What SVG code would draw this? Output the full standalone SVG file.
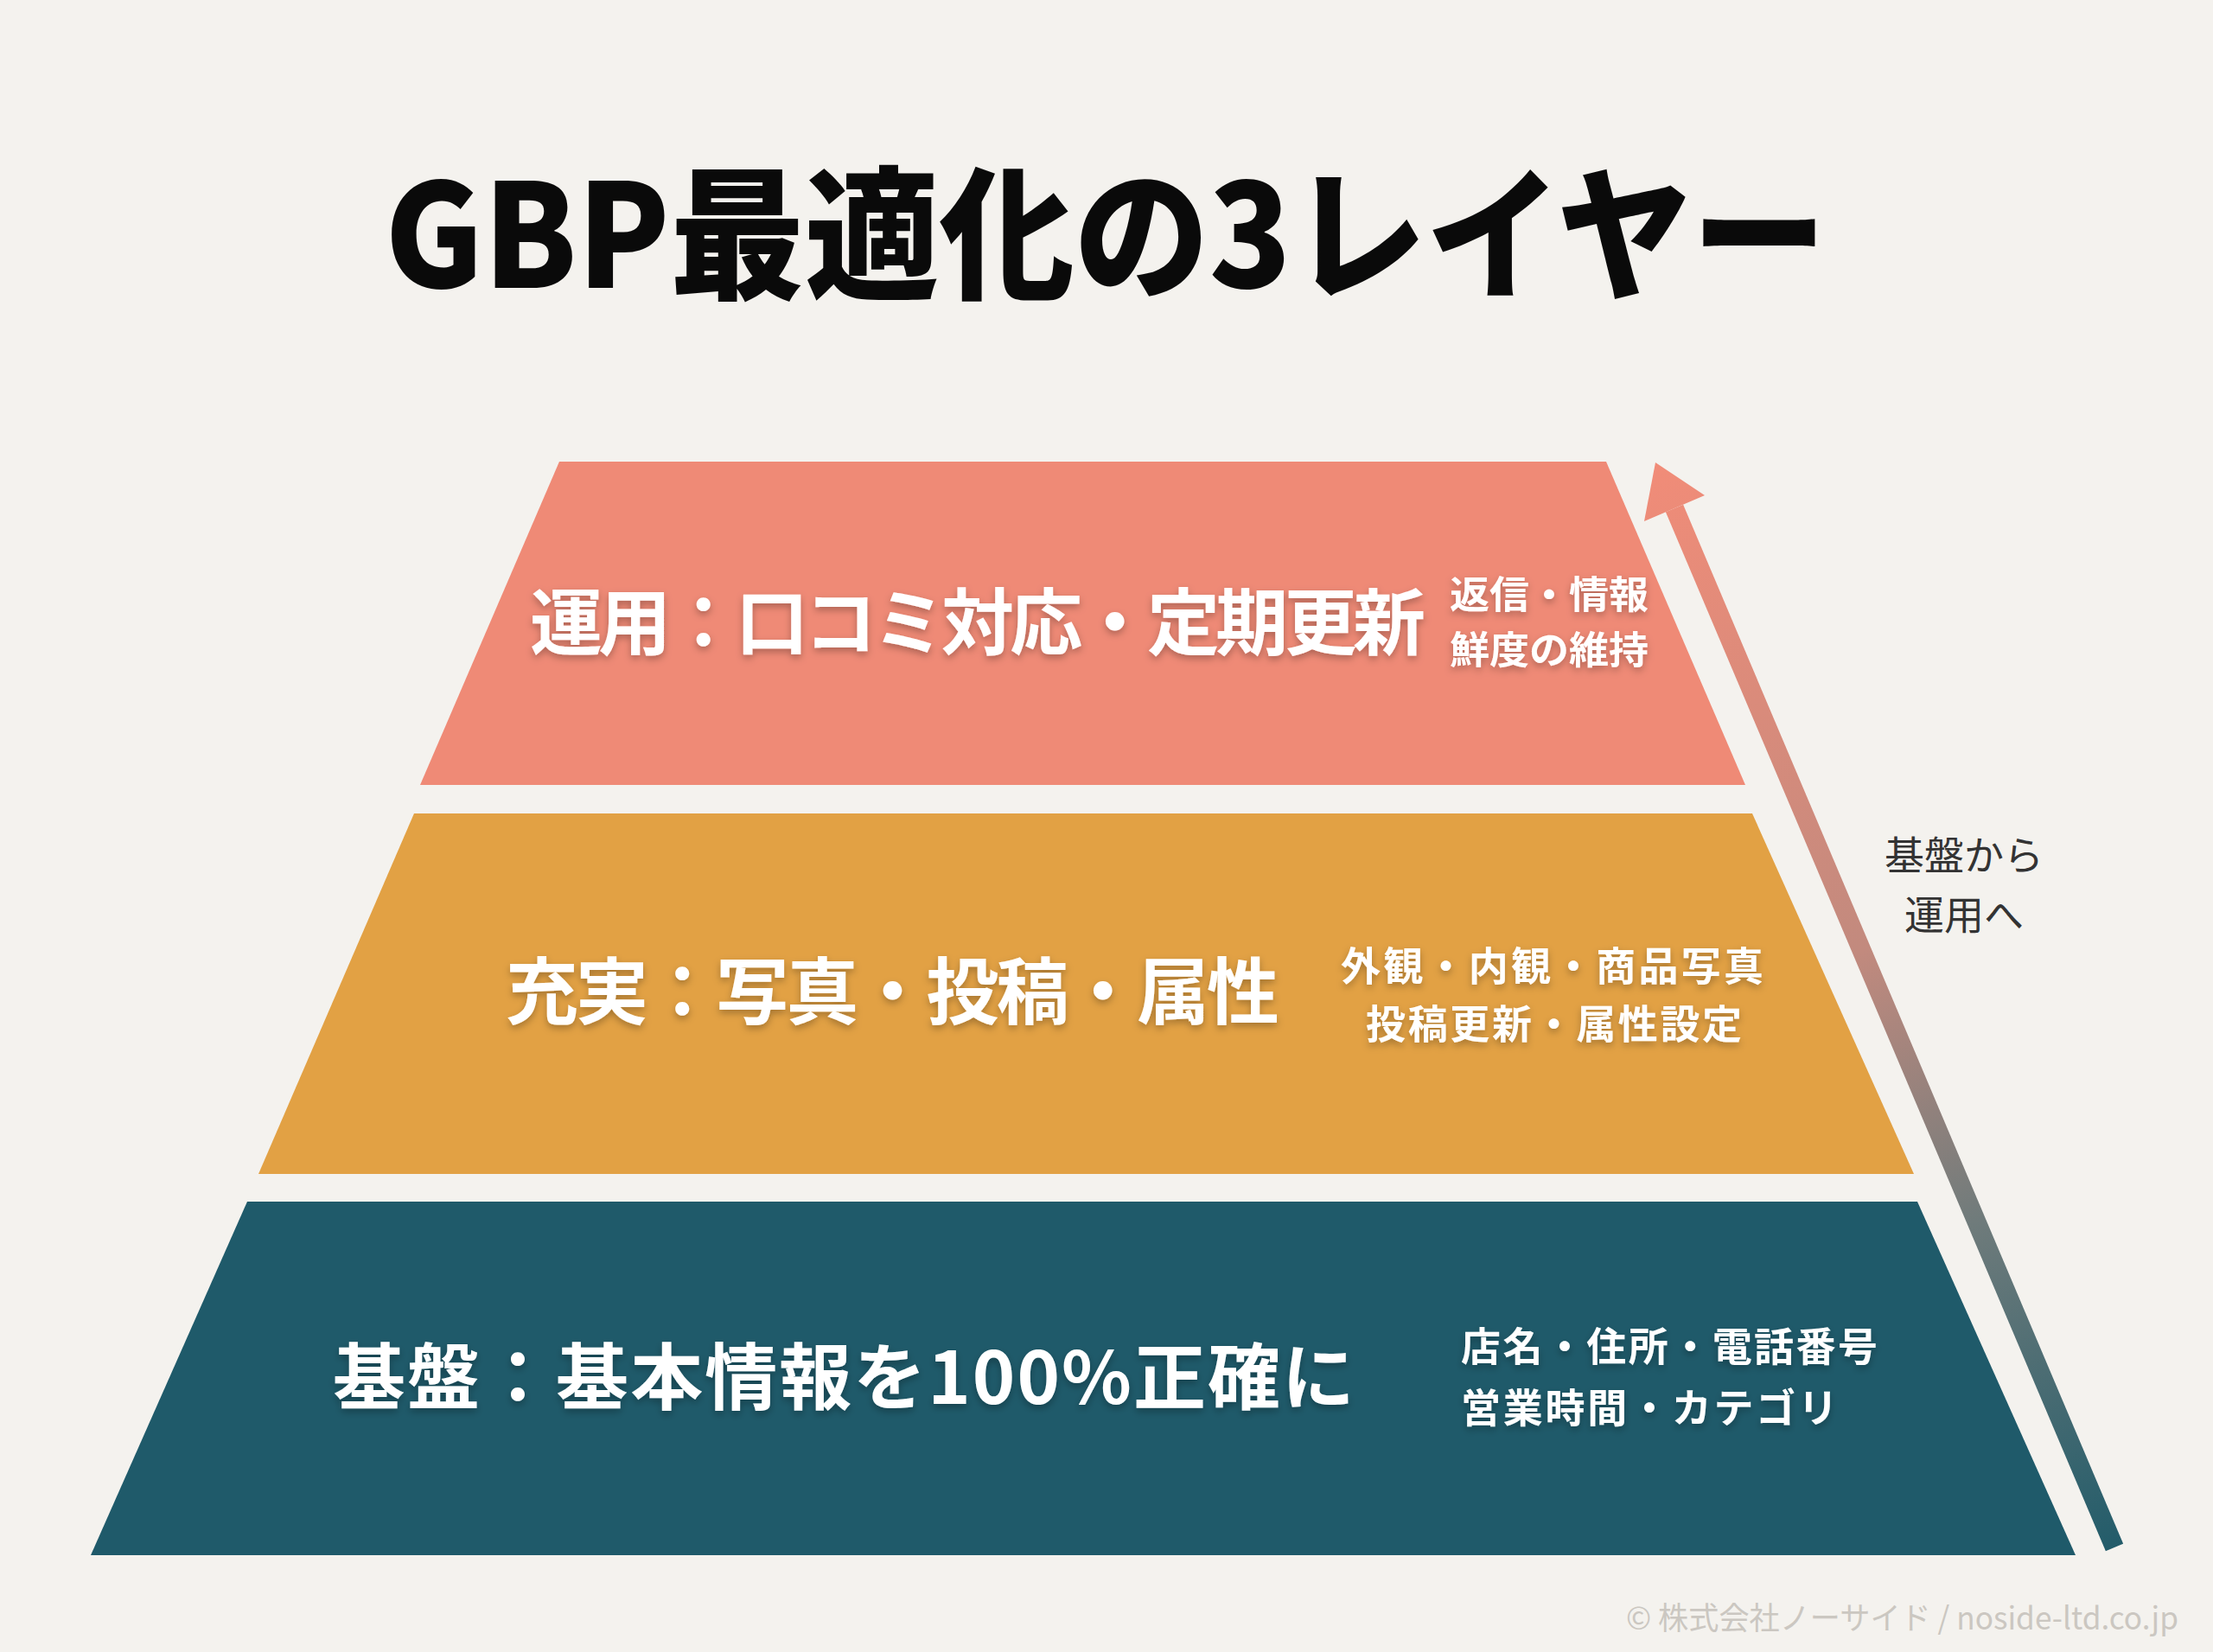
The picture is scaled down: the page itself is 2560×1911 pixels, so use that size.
<svg xmlns="http://www.w3.org/2000/svg" width="2560" height="1911" viewBox="0 0 2560 1911">
  <defs>
    <style>
      text { font-family: "Noto Sans CJK JP", "Noto Sans", sans-serif; }
      .title { font-size: 166px; font-weight: 900; fill: #0a0a0a; }
      .main { font-size: 84px; font-weight: 700; fill: #ffffff; filter: url(#shadow); }
      .sub { font-size: 46px; font-weight: 700; fill: #ffffff; filter: url(#shadow); }
      .subs { font-size: 44px; font-weight: 700; fill: #ffffff; filter: url(#shadow); }
      .note { font-size: 46px; font-weight: 400; fill: #333333; }
      .foot { font-size: 36px; font-weight: 400; fill: #cbc7c1; }
    </style>
    <filter id="shadow" x="-10%" y="-30%" width="120%" height="170%">
      <feDropShadow dx="0" dy="4" stdDeviation="4" flood-color="#000000" flood-opacity="0.28"/>
    </filter>
    <linearGradient id="arrowGrad" gradientUnits="userSpaceOnUse" x1="1915" y1="535" x2="2446" y2="1790">
      <stop offset="0" stop-color="#f18c78"/>
      <stop offset="0.45" stop-color="#c28a7e"/>
      <stop offset="0.7" stop-color="#6f7b7b"/>
      <stop offset="1" stop-color="#235c6a"/>
    </linearGradient>
  </defs>

  <rect x="0" y="0" width="2560" height="1911" fill="#f4f2ee"/>

  <g id="title">
    <text class="title" x="445" y="333" textLength="1668" lengthAdjust="spacingAndGlyphs">GBP最適化の3レイヤー</text>
  </g>

  <g id="layer-top">
    <polygon points="647,534 1858,534 2019,908 486,908" fill="#ef8a76"/>
    <text class="main" x="613" y="751" textLength="1036">運用：口コミ対応・定期更新</text>
    <text class="subs" x="1677" y="704" textLength="230" lengthAdjust="spacingAndGlyphs">返信・情報</text>
    <text class="subs" x="1677" y="768" textLength="230" lengthAdjust="spacingAndGlyphs">鮮度の維持</text>
  </g>

  <g id="layer-middle">
    <polygon points="479,941 2027,941 2214,1358 299,1358" fill="#e2a144"/>
    <text class="main" x="585" y="1178" textLength="895">充実：写真・投稿・属性</text>
    <text class="sub" x="1551" y="1134" textLength="489">外観・内観・商品写真</text>
    <text class="sub" x="1580" y="1201" textLength="435">投稿更新・属性設定</text>
  </g>

  <g id="layer-bottom">
    <polygon points="286,1390 2218,1390 2401,1799 105,1799" fill="#1f5a6a"/>
    <text class="main" x="385" y="1624" textLength="1182">基盤：基本情報を100%正確に</text>
    <text class="sub" x="1690" y="1574" textLength="482">店名・住所・電話番号</text>
    <text class="sub" x="1690" y="1645" textLength="436">営業時間・カテゴリ</text>
  </g>

  <g id="connectors">
    <line x1="1937" y1="588" x2="2446" y2="1790" stroke="url(#arrowGrad)" stroke-width="22" stroke-linecap="butt"/>
    <polygon points="1915,535 1972,573 1902,603" fill="url(#arrowGrad)"/>
  </g>

  <g id="arrow-label">
    <text class="note" x="2272" y="1006" text-anchor="middle">基盤から</text>
    <text class="note" x="2272" y="1075" text-anchor="middle">運用へ</text>
  </g>

  <g id="footer">
    <text class="foot" x="1881" y="1885" textLength="639" lengthAdjust="spacingAndGlyphs">© 株式会社ノーサイド / noside-ltd.co.jp</text>
  </g>
</svg>
